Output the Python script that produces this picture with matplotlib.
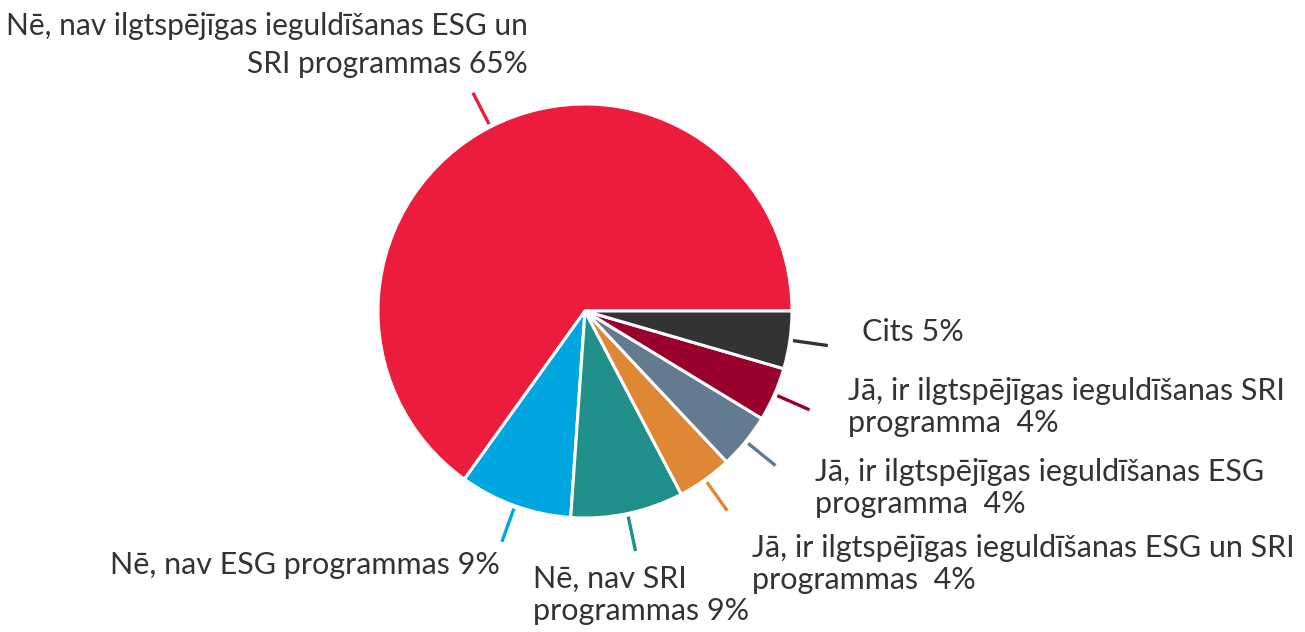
import numpy as np
import matplotlib
matplotlib.use("Agg")
import matplotlib.pyplot as plt

# Dati (nolasīti no attēla)
categories = [
    "Nē, nav ilgtspējīgas ieguldīšanas ESG un\nSRI programmas",
    "Nē, nav ESG programmas",
    "Nē, nav SRI\nprogrammas",
    "Jā, ir ilgtspējīgas ieguldīšanas ESG un SRI\nprogrammas ",
    "Jā, ir ilgtspējīgas ieguldīšanas ESG\nprogramma ",
    "Jā, ir ilgtspējīgas ieguldīšanas SRI\nprogramma ",
    "Cits",
]
shares = [65.1, 8.8, 8.8, 4.3, 4.3, 4.2, 4.5]
pct_labels = ["65%", "9%", "9%", "4%", "4%", "4%", "5%"]
colors = ["#EC1C3C", "#00A6E0", "#21908A", "#DE8735", "#647B8F", "#99002E", "#333333"]

# label anchors in pixel coordinates (x, y, ha)
label_pos = [
    (528, 45, "right"),
    (500, 565, "right"),
    (533, 595, "left"),
    (752, 564, "left"),
    (815, 488, "left"),
    (848, 407, "left"),
    (862, 332, "left"),
]

W, H = 1305, 632
cx, cy, R = 585, 311, 207

fig = plt.figure(figsize=(W / 100, H / 100), dpi=100)
ax = fig.add_axes([0, 0, 1, 1])

wedges, _ = ax.pie(shares, colors=colors, startangle=0, counterclock=False,
                   center=(cx, cy), radius=R, frame=True,
                   wedgeprops=dict(edgecolor="white", linewidth=2.2))
ax.set_xlim(0, W)
ax.set_ylim(H, 0)
ax.axis("off")

# īsas līnijas pie katras daļas
for w in wedges:
    ang = np.deg2rad((w.theta1 + w.theta2) / 2)
    r0, r1 = R * 1.015, R * 1.185
    ax.plot([cx + r0 * np.cos(ang), cx + r1 * np.cos(ang)],
            [cy + r0 * np.sin(ang), cy + r1 * np.sin(ang)],
            color=w.get_facecolor(), lw=2.4, solid_capstyle="butt")

for i, (cat, pct, (x, y, ha)) in enumerate(zip(categories, pct_labels, label_pos)):
    fs = 21.5 if i == 0 else 22
    ls = 1.4 if i == 0 else 1.2
    ax.text(x, y, f"{cat} {pct}", ha=ha, va="center", fontsize=fs,
            family="Lato", color="#333333", linespacing=ls)

fig.savefig("out.png", dpi=100)
